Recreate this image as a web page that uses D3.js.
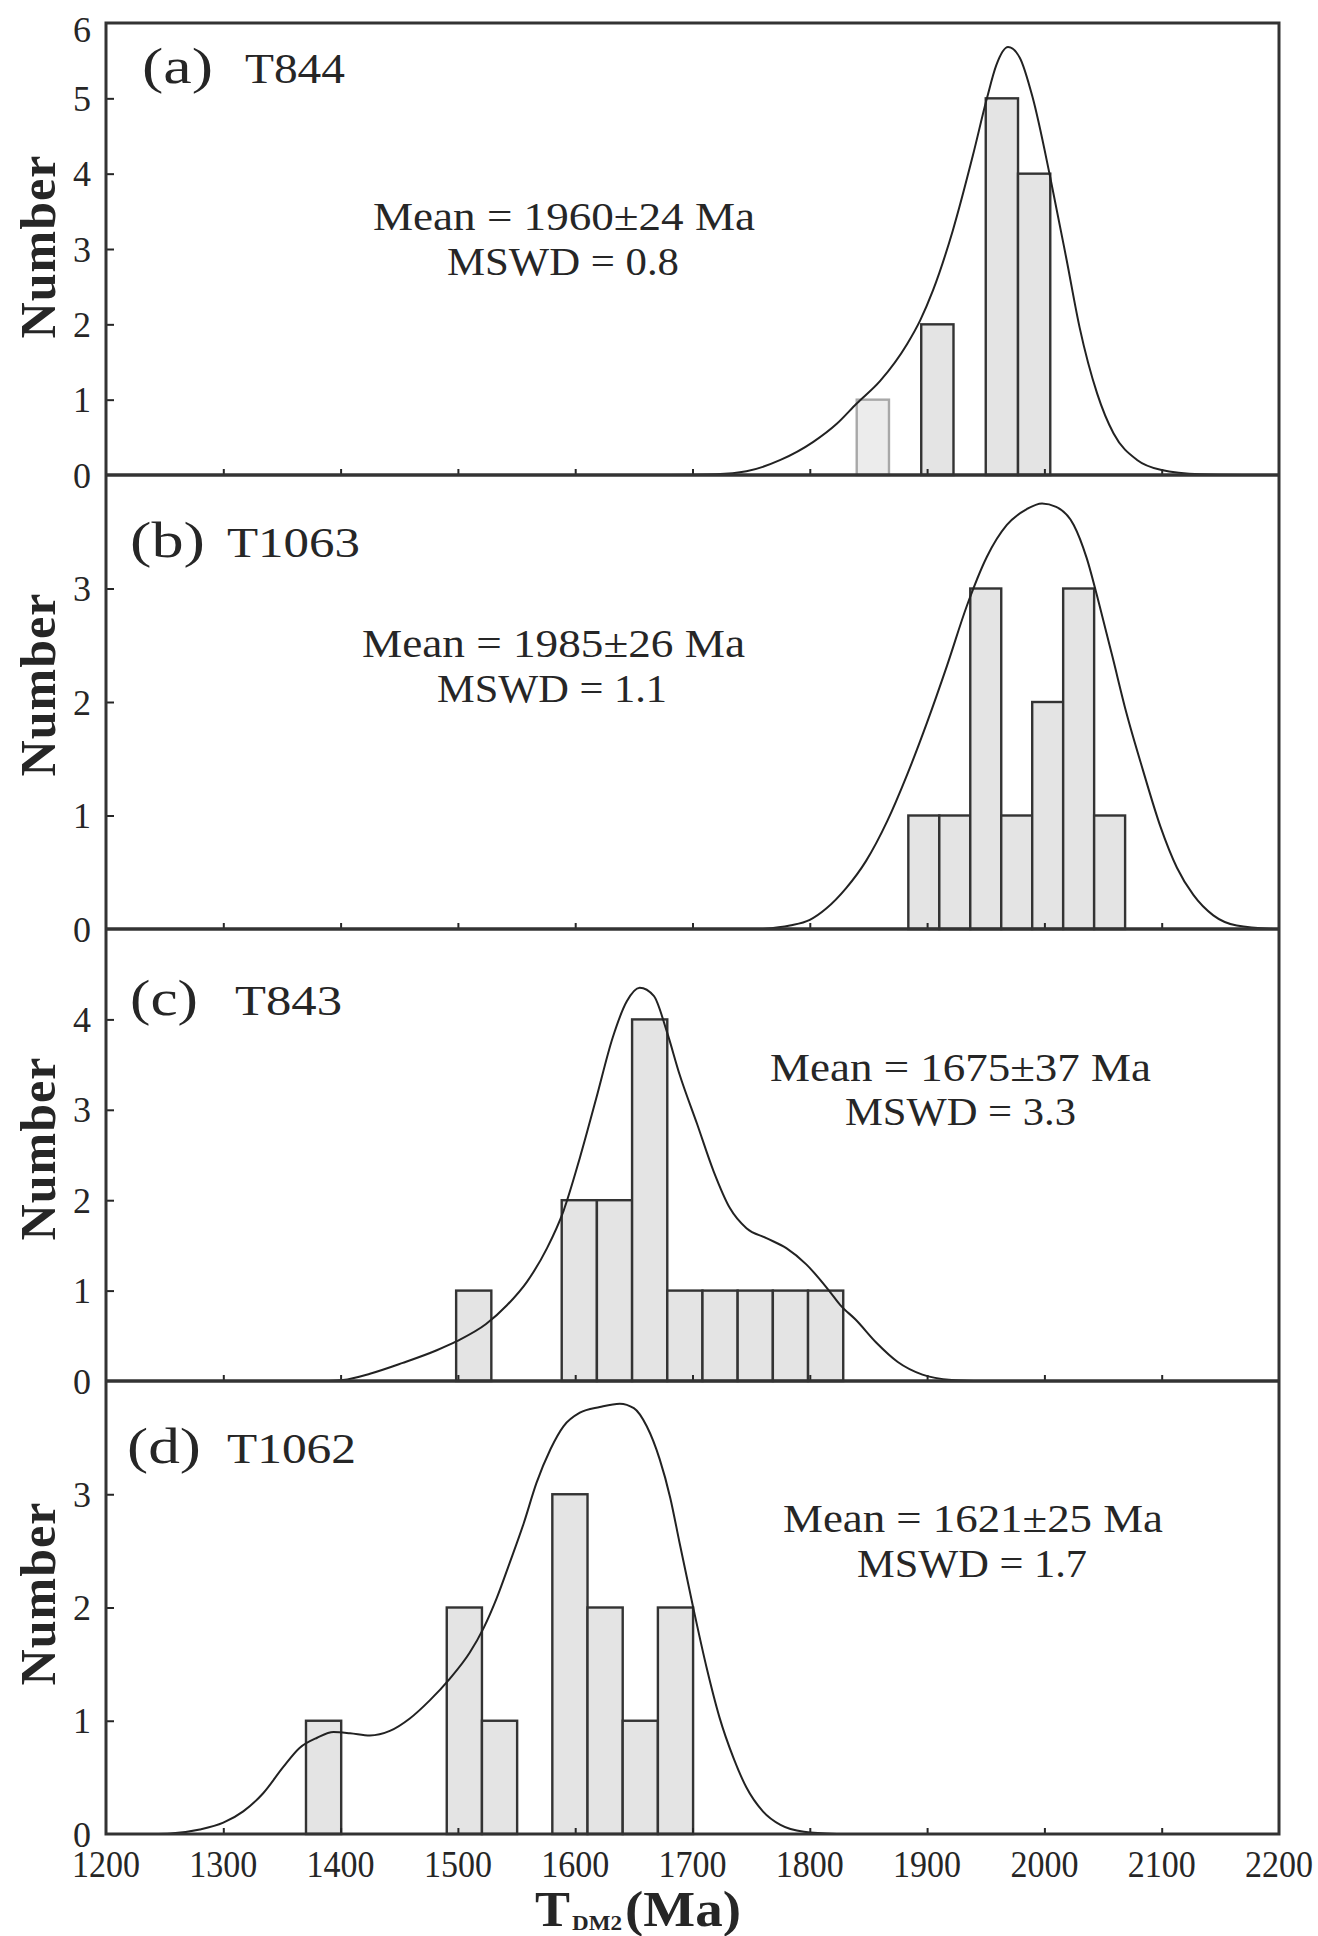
<!DOCTYPE html>
<html>
<head>
<meta charset="utf-8">
<script src="https://cdn.jsdelivr.net/npm/d3@7"></script>
<style>
  body { margin: 0; background: #fff; }
  svg { display: block; }
</style>
</head>
<body>
<svg id="chart" width="1318" height="1936"></svg>
<script>
// ---- T_DM2 model-age histograms with probability-density curves ----

const xTickValues = [1200, 1300, 1400, 1500, 1600, 1700, 1800, 1900, 2000, 2100, 2200];

const panelLetters = ["(a)", "(b)", "(c)", "(d)"];
const sampleIds = ["T844", "T1063", "T843", "T1062"];
const meanLabels = ["Mean = 1960\u00B124 Ma", "Mean = 1985\u00B126 Ma", "Mean = 1675\u00B137 Ma", "Mean = 1621\u00B125 Ma"];
const mswdLabels = ["MSWD = 0.8", "MSWD = 1.1", "MSWD = 3.3", "MSWD = 1.7"];

const yMaxes = [6, 4, 5, 4];
const yTicksA = [0, 1, 2, 3, 4, 5, 6];
const yTicksB = [0, 1, 2, 3];
const yTicksC = [0, 1, 2, 3, 4];
const yTicksD = [0, 1, 2, 3];

// histogram bins: first bin start (Ma), bin width (Ma), counts per bin
const binStartA = 1840,   binWidthA = 27.5, countsA = [1, 0, 2, 0, 5, 4];
const binStartB = 1884,   binWidthB = 26.4, countsB = [1, 1, 3, 1, 2, 3, 1];
const binStartC = 1498.5, binWidthC = 30,   countsC = [1, 0, 0, 2, 2, 4, 1, 1, 1, 1, 1];
const binStartD = 1370.5, binWidthD = 30,   countsD = [1, 0, 0, 0, 2, 1, 0, 3, 2, 1, 2];

// probability-density curves, [age (Ma), number]
const curveA = [[1680,0],[1720,0.01],[1746,0.05],[1775,0.2],[1803,0.44],[1823,0.68],[1840,0.95],[1860,1.25],
  [1883,1.74],[1894,2.05],[1905,2.45],[1922,3.25],[1939,4.24],[1951,5.0],[1959,5.44],[1969,5.68],[1979,5.54],
  [1990,5.01],[2005,3.95],[2019,2.85],[2030,1.96],[2045,1.08],[2059,0.55],[2079,0.2],[2099,0.07],[2133,0.01],
  [2170,0]];
const curveB = [[1760,0],[1783,0.03],[1800,0.08],[1814,0.18],[1831,0.36],[1848,0.60],[1866,0.95],[1883,1.36],
  [1900,1.82],[1917,2.32],[1934,2.85],[1951,3.28],[1968,3.56],[1985,3.70],[1998,3.75],[2010,3.72],[2025,3.56],
  [2036,3.27],[2047,2.85],[2058,2.40],[2070,1.90],[2084,1.40],[2099,0.90],[2113,0.54],[2127,0.30],[2144,0.12],
  [2164,0.03],[2195,0]];
const curveC = [[1390,0],[1402,0.01],[1425,0.08],[1453,0.20],[1482,0.34],[1499,0.44],[1524,0.63],[1542,0.84],
  [1559,1.10],[1576,1.47],[1590,1.88],[1604,2.47],[1618,3.13],[1632,3.80],[1644,4.20],[1655,4.35],[1667,4.26],
  [1678,3.87],[1689,3.39],[1704,2.84],[1718,2.32],[1732,1.91],[1746,1.69],[1763,1.58],[1780,1.47],[1797,1.29],
  [1817,0.99],[1826,0.84],[1839,0.68],[1857,0.42],[1875,0.21],[1896,0.07],[1921,0.01],[1940,0]];
const curveD = [[1240,0],[1255,0.005],[1280,0.04],[1300,0.10],[1317,0.20],[1334,0.36],[1351,0.59],[1365,0.76],
  [1380,0.85],[1394,0.90],[1408,0.89],[1425,0.87],[1442,0.91],[1459,1.02],[1476,1.18],[1493,1.37],[1510,1.60],
  [1522,1.82],[1533,2.08],[1544,2.39],[1556,2.74],[1567,3.10],[1579,3.40],[1590,3.60],[1604,3.72],[1621,3.77],
  [1638,3.80],[1650,3.76],[1661,3.60],[1672,3.31],[1681,2.97],[1689,2.57],[1701,1.98],[1712,1.47],[1723,1.03],
  [1735,0.67],[1746,0.41],[1760,0.20],[1775,0.08],[1795,0.02],[1823,0]];

// ---- layout ----
const W = 1318, H = 1936;
const left = 106, right = 1279;
const panelTops = [23, 475, 929, 1381];
const panelBottoms = [475, 929, 1381, 1834];
const serif = "'Liberation Serif', 'Times New Roman', Times, serif";
const ink = "#262626";

// text placement per panel: letter [x0, x1], sample id [x0, x1], baseline;
// mean / mswd [x, baseline, width]; centre of the rotated axis title
const panels = [
  { yTicks: yTicksA, start: binStartA, width: binWidthA, counts: countsA, curve: curveA,
    letter: [142, 213], id: [245, 345], nameY: 83, mean: [373, 230, 382], mswd: [447, 275, 232], number: 247 },
  { yTicks: yTicksB, start: binStartB, width: binWidthB, counts: countsB, curve: curveB,
    letter: [130, 205], id: [227, 360], nameY: 557, mean: [362, 657, 383], mswd: [437, 702, 230], number: 685 },
  { yTicks: yTicksC, start: binStartC, width: binWidthC, counts: countsC, curve: curveC,
    letter: [130, 198], id: [235, 342], nameY: 1015, mean: [770, 1081, 381], mswd: [845, 1125, 231], number: 1149 },
  { yTicks: yTicksD, start: binStartD, width: binWidthD, counts: countsD, curve: curveD,
    letter: [127, 201], id: [227, 356], nameY: 1463, mean: [783, 1532, 380], mswd: [857, 1577, 230], number: 1594 }
];

const svg = d3.select("#chart");
svg.append("rect").attr("width", W).attr("height", H).attr("fill", "#fff");

const x = d3.scaleLinear().domain([1200, 2200]).range([left, right]);

function fitText(g, str, x0, y0, width, size, weight) {
  return g.append("text")
    .attr("x", x0).attr("y", y0)
    .attr("textLength", width).attr("lengthAdjust", "spacingAndGlyphs")
    .attr("font-family", serif).attr("font-size", size)
    .attr("font-weight", weight || "normal").attr("fill", ink)
    .text(str);
}

panels.forEach((p, k) => {
  const y = d3.scaleLinear().domain([0, yMaxes[k]]).range([panelBottoms[k], panelTops[k]]);
  const g = svg.append("g").attr("class", "panel-" + k);

  // histogram bars
  const bins = p.counts.map((c, i) => ({ x0: p.start + i * p.width, x1: p.start + (i + 1) * p.width, n: c, i }))
    .filter(b => b.n > 0);
  g.selectAll("rect.bar").data(bins).join("rect")
    .attr("class", "bar")
    .attr("x", b => x(b.x0))
    .attr("width", b => x(b.x1) - x(b.x0))
    .attr("y", b => y(b.n))
    .attr("height", b => y(0) - y(b.n))
    .attr("fill", b => (k === 0 && b.i === 0) ? "#ececec" : "#e4e4e4")
    .attr("stroke", b => (k === 0 && b.i === 0) ? "#a8a8a8" : "#333")
    .attr("stroke-width", 2.4);

  // density curve
  const line = d3.line().x(d => x(d[0])).y(d => y(d[1])).curve(d3.curveMonotoneX);
  g.append("path").datum(p.curve)
    .attr("d", line)
    .attr("fill", "none")
    .attr("stroke", "#222")
    .attr("stroke-width", 2);

  // x ticks along the panel baseline (inward)
  const xAxis = d3.axisBottom(x).tickValues(xTickValues.slice(1, -1)).tickSize(-6).tickFormat("");
  const xa = g.append("g").attr("transform", `translate(0,${panelBottoms[k]})`).call(xAxis);
  xa.select(".domain").remove();
  xa.selectAll(".tick line").attr("stroke", ink).attr("stroke-width", 2);

  // y ticks (inward) and labels
  const inner = p.yTicks.filter(v => v > 0 && v < yMaxes[k]);
  const yAxis = d3.axisLeft(y).tickValues(inner).tickSize(-8).tickFormat("");
  const ya = g.append("g").attr("transform", `translate(${left},0)`).call(yAxis);
  ya.select(".domain").remove();
  ya.selectAll(".tick line").attr("stroke", ink).attr("stroke-width", 2);

  g.selectAll("text.ylab").data(p.yTicks).join("text")
    .attr("class", "ylab")
    .attr("x", 91)
    .attr("y", v => y(v) + (v === yMaxes[k] ? 6 : 0))
    .attr("dy", "0.35em")
    .attr("text-anchor", "end")
    .attr("font-family", serif)
    .attr("font-size", 36)
    .attr("fill", ink)
    .text(v => v);

  // sample label: panel letter and sample number
  fitText(g, panelLetters[k], p.letter[0], p.nameY, p.letter[1] - p.letter[0], 50);
  fitText(g, sampleIds[k], p.id[0], p.nameY, p.id[1] - p.id[0], 42);

  // mean age and MSWD
  fitText(g, meanLabels[k], p.mean[0], p.mean[1], p.mean[2], 40);
  fitText(g, mswdLabels[k], p.mswd[0], p.mswd[1], p.mswd[2], 40);

  // y axis title
  g.append("text")
    .attr("transform", `translate(55,${p.number}) rotate(-90)`)
    .attr("text-anchor", "middle")
    .attr("textLength", 183).attr("lengthAdjust", "spacing")
    .attr("font-family", serif).attr("font-size", 50).attr("font-weight", "bold").attr("fill", ink)
    .text("Number");
});

// frame and panel dividers
svg.append("rect")
  .attr("x", left).attr("y", panelTops[0])
  .attr("width", right - left).attr("height", panelBottoms[3] - panelTops[0])
  .attr("fill", "none").attr("stroke", "#333").attr("stroke-width", 3);
svg.selectAll("line.divider").data(panelBottoms.slice(0, 3)).join("line")
  .attr("class", "divider")
  .attr("x1", left).attr("x2", right)
  .attr("y1", d => d).attr("y2", d => d)
  .attr("stroke", "#333").attr("stroke-width", 3.5);

// x tick labels under the bottom panel
svg.selectAll("text.xlab").data(xTickValues).join("text")
  .attr("class", "xlab")
  .attr("x", d => x(d) - 34)
  .attr("y", 1877)
  .attr("textLength", 68).attr("lengthAdjust", "spacingAndGlyphs")
  .attr("font-family", serif).attr("font-size", 37).attr("fill", ink)
  .text(d => d);

// x axis title: T_DM2 (Ma)
const title = svg.append("g");
fitText(title, "T", 535, 1926, 35, 50, "bold");
fitText(title, "DM2", 572, 1930, 50, 22, "bold");
fitText(title, "(Ma)", 625, 1926, 116, 50, "bold");
</script>
</body>
</html>
